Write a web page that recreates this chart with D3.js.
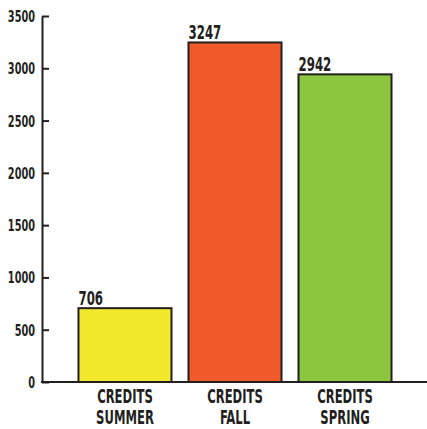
<!DOCTYPE html>
<html><head><meta charset="utf-8">
<script src="https://cdn.jsdelivr.net/npm/d3@7"></script>
<style>body{margin:0;background:#fff}svg{display:block}</style>
</head><body>
<script>
const categories = [["CREDITS","SUMMER"],["CREDITS","FALL"],["CREDITS","SPRING"]];
const values = [706, 3247, 2942];
const colors = ["#f2e92c", "#f15a2a", "#8cc63f"];
const yTicks = [0, 500, 1000, 1500, 2000, 2500, 3000, 3500];

const W = 427, H = 429;
const font = "'DejaVu Sans Condensed', 'DejaVu Sans', sans-serif";
const svg = d3.select("body").append("svg").attr("width", W).attr("height", H);

const y = d3.scaleLinear().domain([0, 3500]).range([382, 16]);
const x = d3.scaleBand().domain(d3.range(values.length)).range([70, 400])
  .paddingInner(0.1545).paddingOuter(0.077);

// bars
svg.selectAll("rect.bar").data(values).join("rect")
  .attr("x", (d, i) => x(i)).attr("y", d => y(d))
  .attr("width", x.bandwidth()).attr("height", d => y(0) - y(d))
  .attr("fill", (d, i) => colors[i]).attr("stroke", "#231f20").attr("stroke-width", 2);

// value labels
svg.selectAll("text.val").data(values).join("text")
  .attr("transform", (d, i) => `translate(${x(i)},${y(d) - 3}) scale(0.69,1)`)
  .attr("font-family", font).attr("font-weight", "bold").attr("font-size", 19)
  .attr("fill", "#231f20").text(d => d);

// y axis
const gy = svg.append("g").attr("transform", "translate(42,0)")
  .call(d3.axisLeft(y).tickValues(yTicks).tickSizeInner(-7).tickSizeOuter(0).tickPadding(7).tickFormat(d3.format("d")));
gy.select(".domain").attr("stroke", "#231f20").attr("stroke-width", 2);
gy.selectAll(".tick line").attr("stroke", "#231f20").attr("stroke-width", 2);
gy.selectAll(".tick text")
  .attr("x", null).attr("dy", null)
  .attr("transform", `translate(-7,5.5) scale(0.7,1)`)
  .attr("font-family", font).attr("font-weight", "bold").attr("font-size", 15.5)
  .attr("fill", "#231f20").attr("text-anchor", "end");

// x baseline
svg.append("line").attr("x1", 41).attr("x2", W).attr("y1", y(0)).attr("y2", y(0))
  .attr("stroke", "#231f20").attr("stroke-width", 2);

// category labels
const cl = svg.selectAll("g.cat").data(categories).join("g")
  .attr("transform", (d, i) => `translate(${x(i) + x.bandwidth() / 2},0) scale(0.68,1)`);
cl.each(function(d) {
  const g = d3.select(this);
  d.forEach((t, j) => g.append("text").attr("y", 403 + j * 21).attr("text-anchor", "middle")
    .attr("font-family", font).attr("font-weight", "bold").attr("font-size", 19)
    .attr("fill", "#231f20").text(t));
});
</script>
</body></html>
